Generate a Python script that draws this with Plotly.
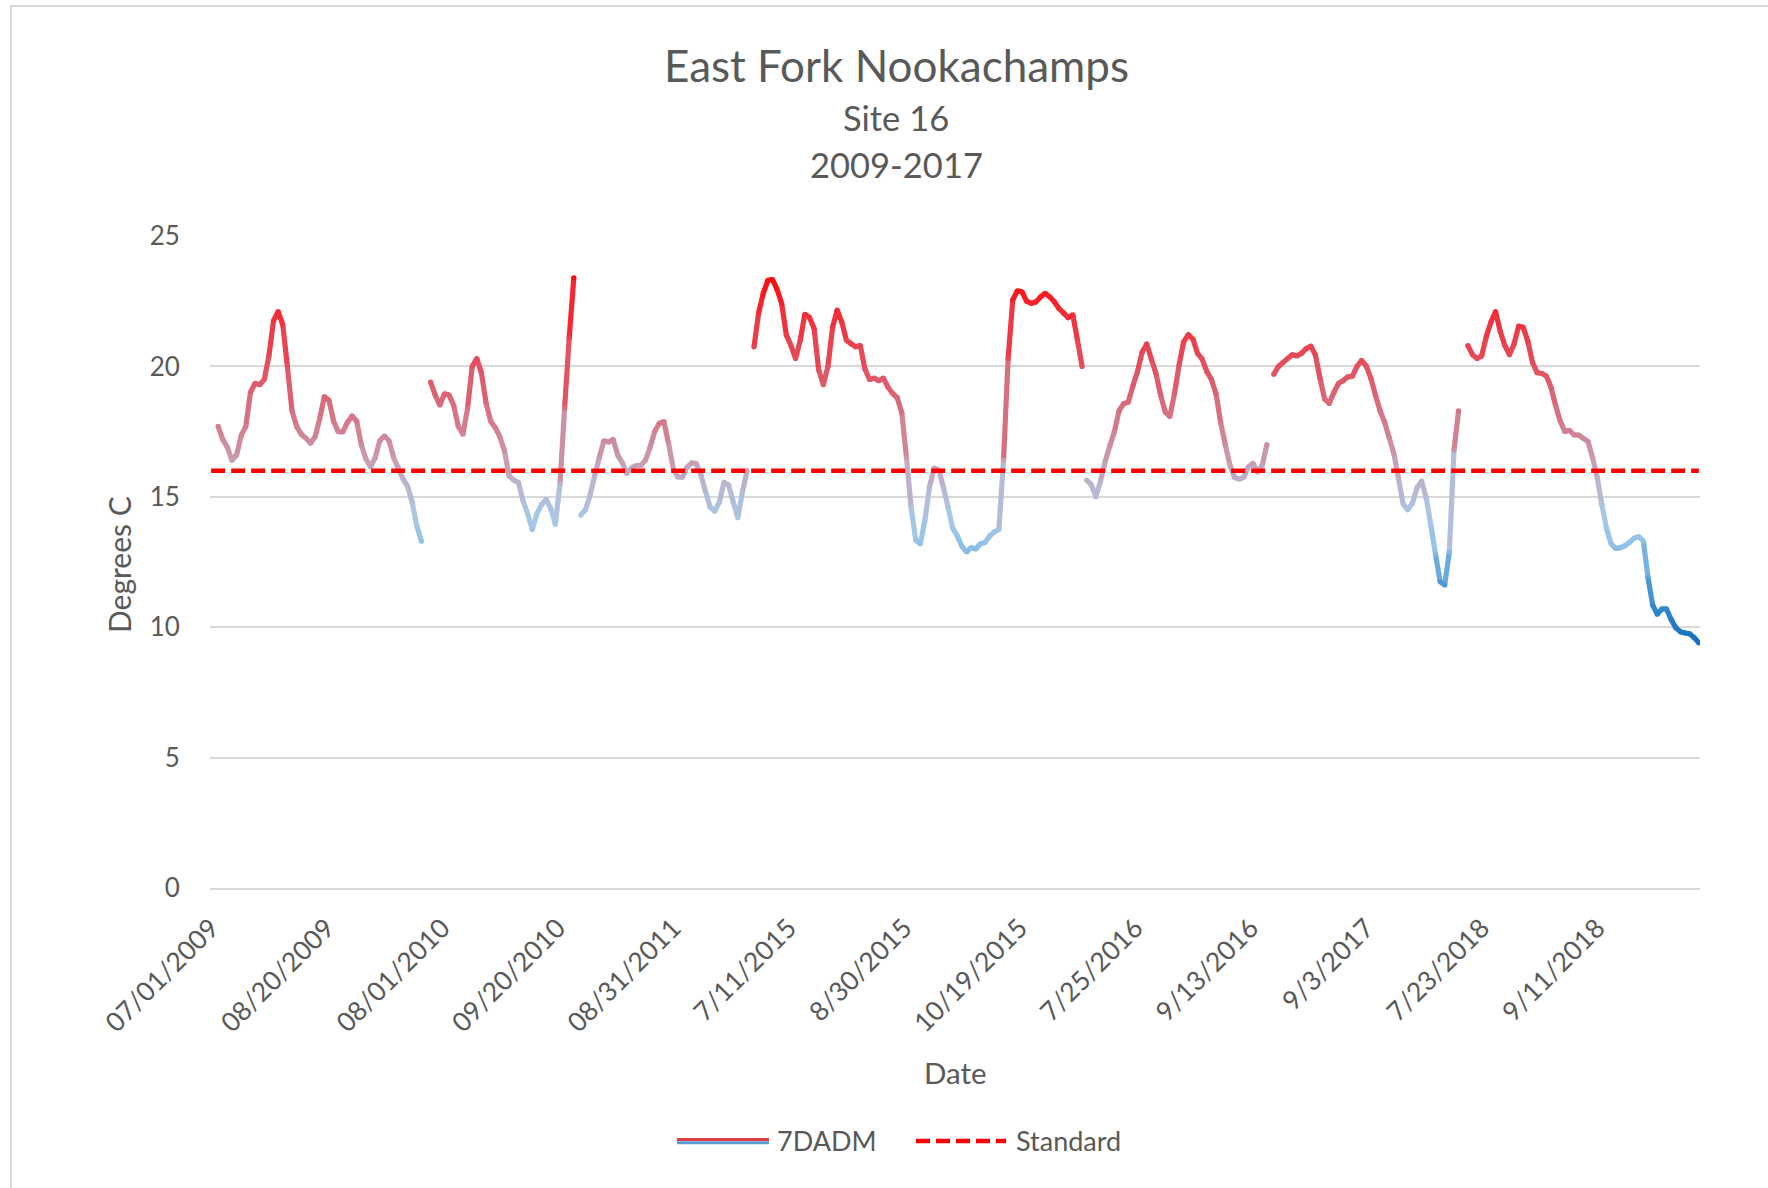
import datetime as dt
import plotly.graph_objects as go

# ---------------- data ----------------
title_text = "East Fork Nookachamps"
subtitle_lines = ["Site 16", "2009-2017"]
y_title = "Degrees C"
x_title = "Date"
series_name = "7DADM"
standard_name = "Standard"
standard_value = 16

# rows of the source table: (first date, number of daily rows)
category_ranges = [("2009-07-01", 95), ("2010-07-27", 64), ("2011-07-21", 75),
                   ("2015-06-25", 145), ("2016-07-04", 79), ("2017-07-23", 84),
                   ("2018-07-15", 103)]

tick_labels = ["07/01/2009", "08/20/2009", "08/01/2010", "09/20/2010", "08/31/2011",
               "7/11/2015", "8/30/2015", "10/19/2015", "7/25/2016", "9/13/2016",
               "9/3/2017", "7/23/2018", "9/11/2018"]
tick_every = 50

# 7DADM readings (deg C), one every second day from each season's first reading
season_starts = ["2009-07-04", "2010-07-27", "2011-07-22", "2015-06-26",
                 "2016-07-04", "2017-07-25", "2018-07-17"]
reading_step_days = 2

t2009 = [17.7, 17.2, 16.9, 16.4, 16.6, 17.35, 17.7, 19.0, 19.35, 19.3,
         19.5, 20.4, 21.75, 22.1, 21.6, 20.0, 18.3, 17.7, 17.4, 17.25,
         17.05, 17.3, 18.0, 18.84, 18.7, 17.9, 17.5, 17.49, 17.85, 18.1,
         17.9, 17.0, 16.45, 16.15, 16.5, 17.15, 17.33, 17.15, 16.5, 16.1,
         15.7, 15.4, 14.8, 13.9, 13.3]
t2010 = [19.4, 18.9, 18.52, 18.95, 18.9, 18.5, 17.7, 17.4, 18.4, 20.0,
         20.3, 19.75, 18.6, 17.9, 17.65, 17.3, 16.75, 15.8, 15.64, 15.55,
         14.85, 14.35, 13.75, 14.35, 14.7, 14.9, 14.55, 13.95, 15.5, 18.4,
         21.1, 23.4]
t2011 = [14.3, 14.5, 15.05, 15.8, 16.5, 17.15, 17.1, 17.2, 16.6, 16.3,
         15.9, 16.1, 16.2, 16.2, 16.4, 16.9, 17.5, 17.82, 17.88, 17.05,
         16.1, 15.76, 15.75, 16.13, 16.3, 16.27, 15.85, 15.2, 14.6, 14.45,
         14.8, 15.55, 15.45, 14.8, 14.2, 15.2, 16.0]
t2015 = [20.75, 22.05, 22.8, 23.3, 23.33, 22.95, 22.4, 21.2, 20.8, 20.3,
         21.0, 22.0, 21.88, 21.45, 19.86, 19.3, 20.0, 21.5, 22.16, 21.7,
         21.0, 20.87, 20.75, 20.8, 19.9, 19.5, 19.55, 19.45, 19.55, 19.2,
         18.96, 18.8, 18.2, 16.5, 14.6, 13.34, 13.2, 14.1, 15.4, 16.1,
         16.03, 15.35, 14.6, 13.8, 13.5, 13.1, 12.89, 13.05, 13.0, 13.2,
         13.25, 13.5, 13.65, 13.75, 16.4, 20.3, 22.55, 22.9, 22.86, 22.5,
         22.42, 22.47, 22.66, 22.8, 22.67, 22.48, 22.22, 22.05, 21.87, 21.98,
         21.01, 20.0]
t2016 = [15.64, 15.47, 15.0, 15.6, 16.35, 16.95, 17.5, 18.3, 18.57, 18.63,
         19.25, 19.8, 20.55, 20.86, 20.28, 19.73, 18.9, 18.25, 18.08, 18.95,
         20.05, 20.95, 21.22, 21.05, 20.5, 20.28, 19.8, 19.5, 18.95, 17.85,
         17.0, 16.22, 15.74, 15.68, 15.75, 16.15, 16.28, 15.95, 16.2, 17.0]
t2017 = [19.7, 20.0, 20.15, 20.3, 20.45, 20.4, 20.5, 20.68, 20.78, 20.45,
         19.55, 18.75, 18.58, 19.0, 19.35, 19.45, 19.6, 19.62, 20.0, 20.23,
         20.02, 19.55, 18.9, 18.3, 17.85, 17.25, 16.65, 15.7, 14.72, 14.5,
         14.75, 15.35, 15.6, 14.95, 13.9, 12.8, 11.75, 11.62, 12.9, 16.79,
         18.3]
t2018 = [20.8, 20.45, 20.3, 20.4, 21.15, 21.7, 22.1, 21.35, 20.8, 20.45,
         20.85, 21.55, 21.5, 20.95, 20.15, 19.76, 19.73, 19.63, 19.2, 18.5,
         17.9, 17.5, 17.55, 17.37, 17.37, 17.24, 17.12, 16.5, 15.75, 14.7,
         13.8, 13.2, 13.02, 13.05, 13.12, 13.25, 13.42, 13.47, 13.3, 11.9,
         10.85, 10.5, 10.7, 10.7, 10.3, 9.98, 9.83, 9.78, 9.75, 9.6,
         9.4]
seasons = [t2009, t2010, t2011, t2015, t2016, t2017, t2018]

# ---------------- styling ----------------
W, H = 1768, 1188
ML, MR, MT, MB = 210, 68, 236, 300
PW, PH = W - ML - MR, H - MT - MB
FONT = "Lato"
TXT = "#595959"
GRID = "#D9D9D9"
LW = 5.2

grad_stops = [(9.4, (20, 112, 192)), (10.5, (44, 130, 203)), (11.6, (78, 152, 213)),
              (13.2, (146, 194, 232)), (14.2, (168, 200, 230)), (15.3, (184, 184, 210)),
              (16.3, (198, 160, 180)), (17.5, (209, 130, 146)), (19.3, (222, 92, 108)),
              (21.0, (234, 64, 76)), (22.2, (245, 40, 50)), (23.4, (255, 10, 10))]


def grad_color(v):
    if v <= grad_stops[0][0]:
        c = grad_stops[0][1]
    elif v >= grad_stops[-1][0]:
        c = grad_stops[-1][1]
    else:
        for (v0, c0), (v1, c1) in zip(grad_stops[:-1], grad_stops[1:]):
            if v0 <= v <= v1:
                f = (v - v0) / (v1 - v0)
                c = tuple(round(a + (b - a) * f) for a, b in zip(c0, c1))
                break
    return "rgb(%d,%d,%d)" % c


def px_x(x):
    return (x - ML) / PW


def px_y(y):
    return (MT + PH - y) / PH


# ---------------- categories ----------------
categories = []
for start, n in category_ranges:
    d0 = dt.date.fromisoformat(start)
    categories += [d0 + dt.timedelta(days=i) for i in range(n)]
cat_index = {d: i for i, d in enumerate(categories)}
N = len(categories)

fig = go.Figure()

# gradient line: pieces grouped by colour
groups = {}
vx, vy, vc = [], [], []
for start, vals in zip(season_starts, seasons):
    d0 = dt.date.fromisoformat(start)
    xs = [cat_index[d0 + dt.timedelta(days=reading_step_days * i)] for i in range(len(vals))]
    for i in range(len(vals) - 1):
        col = grad_color(round((vals[i] + vals[i + 1]) / 2, 1))
        g = groups.setdefault(col, ([], []))
        g[0].extend([xs[i], xs[i + 1], None])
        g[1].extend([vals[i], vals[i + 1], None])
    vx += xs
    vy += vals
    vc += [grad_color(v) for v in vals]

for col, (gx, gy) in groups.items():
    fig.add_trace(go.Scatter(x=gx, y=gy, mode="lines", line=dict(color=col, width=LW),
                             hoverinfo="skip", showlegend=False, connectgaps=False))
fig.add_trace(go.Scatter(x=vx, y=vy, mode="markers", name=series_name,
                         marker=dict(color=vc, size=LW, line=dict(width=0)),
                         showlegend=False))

# standard line
fig.add_trace(go.Scatter(x=[0, N - 1], y=[standard_value, standard_value], mode="lines",
                         name=standard_name, showlegend=False,
                         line=dict(color="#FF0000", width=4.5, dash="14px,6px")))

tickvals = list(range(0, N, tick_every))[:len(tick_labels)]

fig.update_layout(
    width=W, height=H,
    margin=dict(l=ML, r=MR, t=MT, b=MB, autoexpand=False),
    paper_bgcolor="white", plot_bgcolor="white",
    showlegend=False,
    font=dict(family=FONT, color=TXT),
    xaxis=dict(range=[-0.5, N - 0.5], tickmode="array", tickvals=tickvals, ticktext=tick_labels,
               tickangle=-45, showgrid=False, zeroline=False,
               showline=True, linecolor=GRID, linewidth=2,
               ticks="outside", ticklen=12, tickcolor="rgba(0,0,0,0)",
               tickfont=dict(family=FONT, size=26.5, color=TXT)),
    yaxis=dict(range=[0, 25], tickmode="array", tickvals=[0, 5, 10, 15, 20, 25],
               showgrid=True, gridcolor=GRID, gridwidth=2, zeroline=False, showline=False,
               ticks="outside", ticklen=24, tickcolor="rgba(0,0,0,0)",
               tickfont=dict(family=FONT, size=26, color=TXT)),
)

ann = []
ann.append(dict(text=title_text, x=px_x(896), y=px_y(65), font=dict(size=44, color=TXT)))
ann.append(dict(text=subtitle_lines[0], x=px_x(896), y=px_y(117), font=dict(size=34.5, color=TXT)))
ann.append(dict(text=subtitle_lines[1], x=px_x(896), y=px_y(164), font=dict(size=34.5, color=TXT)))
ann.append(dict(text=x_title, x=px_x(955), y=px_y(1072), font=dict(size=29.5, color=TXT)))
ann.append(dict(text=y_title, x=px_x(119), y=px_y(565), textangle=-90, font=dict(size=30, color=TXT)))
ann.append(dict(text=series_name, x=px_x(775), y=px_y(1140), xanchor="left", font=dict(size=27, color=TXT)))
ann.append(dict(text=standard_name, x=px_x(1014), y=px_y(1140), xanchor="left", font=dict(size=27, color=TXT)))
for a in ann:
    a.setdefault("xanchor", "center")
    a.update(xref="paper", yref="paper", yanchor="middle", showarrow=False)
fig.update_layout(annotations=ann)

shapes = [
    dict(type="rect", xref="paper", yref="paper", x0=px_x(11), x1=px_x(1800), y0=px_y(1200), y1=px_y(6),
         line=dict(color=GRID, width=2), fillcolor="rgba(0,0,0,0)", layer="below"),
    dict(type="line", xref="paper", yref="paper", x0=px_x(677), x1=px_x(769), y0=px_y(1139.5), y1=px_y(1139.5),
         line=dict(color="rgb(226,62,72)", width=3)),
    dict(type="line", xref="paper", yref="paper", x0=px_x(677), x1=px_x(769), y0=px_y(1142.8), y1=px_y(1142.8),
         line=dict(color="rgb(91,155,213)", width=3)),
    dict(type="line", xref="paper", yref="paper", x0=px_x(916), x1=px_x(1006), y0=px_y(1141), y1=px_y(1141),
         line=dict(color="#FF0000", width=4.5, dash="14px,6px")),
]
fig.update_layout(shapes=shapes)

fig.write_html("out.html", config={"displayModeBar": False},
               post_script="document.body.style.margin='0';document.body.style.overflow='hidden';")
